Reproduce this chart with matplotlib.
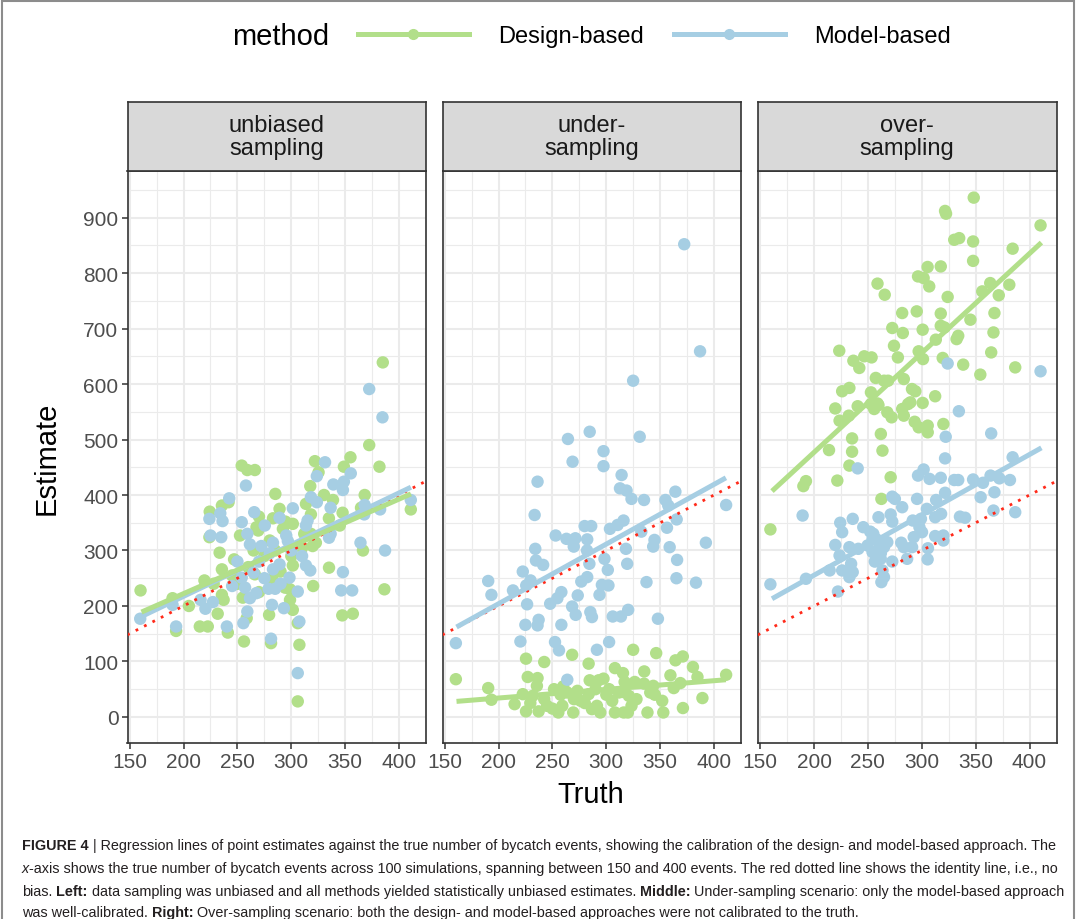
import numpy as np
import matplotlib.pyplot as plt
from matplotlib import font_manager
from matplotlib.lines import Line2D
from matplotlib.patches import Rectangle

plt.rcParams['font.family'] = ['Liberation Sans', 'DejaVu Sans']

# ---- data ---------------------------------------------------------------
panels = ["unbiased\nsampling", "under-\nsampling", "over-\nsampling"]

unb_design = [(384.9,639),(372.3,490),(381.8,451),(354.9,468),(348.8,451),(321.9,461),(325.3,441),
              (254.0,453),(259.2,445),(266.2,445),(317.6,416),(285.2,402),(235.6,381),(241.8,387),
              (224.3,370),(270,361),(283,358),(289.1,375),(294.6,352),(330.4,400),(338.7,391),
              (313.6,384),(318.2,365),(334.9,358),(347.6,368),(368.1,400),(364.7,377),(410.9,374),
              (224,324),(252.4,327),(269.3,336),(267.7,342),(292.2,339),(301.4,348),(318.2,330),
              (233.5,296),(246.9,284),(322.8,314),(319.8,308),(366.5,300),(335,269),(301.4,273),
              (282.4,249),(266.2,257),(235.6,266),(219.4,246),(160.1,228),(189.8,214),(235.6,220),
              (237.2,211),(231.7,186),(294.2,233),(298.8,230),(298.8,211),(301.4,193),(320.3,236),
              (279.4,184),(258.6,178),(241.1,152),(215.1,163),(222.5,163),(193.1,155),(306,169),
              (256.1,136),(281.2,133),(307.5,130),(306,28),(347.3,183),(357.1,186),(386.4,230),
              (275,290),(285,300),(260,270),(310,305),(290,262),(250,240),(270,225),(228,240),
              (205,200),(312,330),(345,345),(265,300),(280,318),(300,290),(245,255),(255,215)]
unb_model = [(372.3,591),(384.6,540),(355.2,439),(331.3,459),(323.7,434),(257.9,417),(339,419),
             (348.8,424),(347.9,409),(242.4,394),(224.0,357),(234.1,367),(236.2,353),(265.6,369),
             (289.1,359),(301.4,376),(254,351),(318.2,396),(323.7,387),(336.5,377),(315.1,354),
             (368.1,382),(367.7,365),(382.4,374),(410.9,391),(225,327),(235,324),(259.2,330),
             (275.4,345),(295.3,327),(313.6,345),(336.5,330),(261.6,311),(272.2,308),(283,314),
             (296.8,317),(335,323),(364.2,314),(387,300),(347.9,261),(313.6,273),(317.6,264),
             (289.1,275),(283,266),(298.3,251),(254,251),(257.1,233),(245.1,236),(267.4,223),
             (261.6,214),(189.8,202),(215.8,211),(220.3,195),(227.3,207),(278.9,231),(285,231),
             (306,226),(282.1,202),(293.1,196),(259.2,190),(255.5,169),(240.2,163),(193.1,163),
             (307.5,172),(281.2,141),(306,79),(346.3,228),(356.5,228),(159.8,177),
             (270,280),(280,295),(300,300),(290,240),(265,260),(310,290),(275,250),(250,280)]

und_design = [(160.4,68),(225.5,105),(242.4,99),(268.3,112),(283.6,96),(324.9,121),(346.3,115),
              (364.2,102),(371,109),(380.4,90),(384.6,72),(411.2,76),(190.4,52),(193.4,31),
              (222.5,41),(214.9,23),(225.5,10),(227.1,72),(236.2,70),(235.6,56),(231.7,38),
              (237.2,10),(242.4,32),(251.5,50),(257.6,40),(259.2,20),(255.5,8),(263.8,44),
              (269.3,8),(273.2,47),(276.2,29),(284.6,66),(283.6,41),(291.3,20),(294.4,8),
              (292.8,66),(297.4,69),(302.6,50),(305.5,29),(308,8),(308,88),(315.5,79),(317,63),
              (316.2,8),(320.9,38),(323.4,20),(326.4,63),(335.2,82),(338.2,8),(340.8,44),
              (343.6,56),(351.9,29),(352.9,8),(359.5,75),(362.6,52),(368.7,61),(371.1,16),
              (389.2,34),(311.6,44),(328,32),(270,32),(245,20),(286.7,14),(320,8),(229.5,25),
              (300,40),(260,55),(280,25),(335,60),(315,45),(250,15),(290,50),(345,40)]
und_model = [(372.3,852),(387,659),(324.9,606),(264.4,501),(284.6,514),(331,505),(297.4,479),
             (297.4,452),(268.7,460),(314.2,436),(236.2,424),(312.7,412),(318.8,408),(323.4,393),
             (335,391),(354.9,391),(364.1,406),(357.5,381),(411.2,382),(365.3,356),(233.5,364),
             (253,327),(263,321),(271.3,322),(269.8,307),(282.3,320),(279.9,344),(286,344),
             (303.4,339),(310.5,346),(316,354),(332.5,334),(344.7,319),(343.5,307),(356.3,341),
             (358.8,306),(392.4,314),(318.2,303),(234.1,303),(282.1,300),(284.3,276),(298.3,285),
             (319.4,276),(301.4,265),(234.7,282),(241.4,274),(222.5,262),(365.7,283),(365.1,250),
             (383.2,242),(337.3,243),(282.3,252),(276.8,244),(229.7,246),(225.7,237),(213.4,228),
             (190.4,245),(193.4,220),(226.5,203),(258.3,225),(254.6,214),(273.5,219),(247.9,204),
             (268.3,199),(295.9,238),(302,237),(293.7,220),(285.2,189),(286.7,180),(271.6,184),
             (258.3,166),(237.2,175),(236.2,165),(224.9,166),(306,181),(313.6,181),(320.3,193),
             (347.9,177),(160.4,133),(220.3,136),(252.4,135),(256.1,120),(291.3,121),(302.6,135),
             (263.8,67)]

ovr_design = [(348.2,936),(321.6,912),(322.5,907),(410.2,886),(330.1,860),(334.7,863),(347.6,857),
              (384.3,844),(347.6,822),(305.4,811),(317.6,812),(296.5,794),(301.7,791),(306.9,776),
              (258.9,781),(265.6,761),(324,757),(363.5,782),(356.1,767),(371.4,760),(381.2,779),
              (281.8,728),(295.3,731),(317.6,727),(367.4,728),(345.1,716),(272.6,701),(282.4,692),
              (300.8,698),(317.6,705),(321,702),(333.8,687),(332.3,681),(366.5,693),(274.2,669),
              (277.8,648),(297.1,659),(301.1,645),(313,680),(319.4,647),(338.4,635),(364.4,657),
              (354.3,617),(386.7,630),(223.4,660),(236.5,642),(242,629),(246.6,650),(253.4,648),
              (257.3,611),(265,606),(268.7,606),(283.3,609),(290.9,591),(294,587),(312.4,578),
              (300.8,566),(226.1,587),(232.8,593),(252.8,585),(258.9,565),(219.7,556),(240.5,560),
              (289.4,567),(281.8,555),(223.7,534),(232.3,543),(252.8,564),(259.8,562),(255.8,555),
              (268,549),(272,540),(283.3,543),(287.3,564),(293.4,532),(297.1,522),(305.5,525),
              (305.5,513),(320,528),(213.9,481),(235.3,502),(235.3,478),(262,510),(263.5,480),
              (232.8,453),(221.6,426),(192.5,425),(190.1,416),(271.1,432),(262.5,393),(159.5,338)]
ovr_model = [(324,637),(410.2,623),(334.4,551),(364.4,511),(322.2,505),(321.6,466),(240.5,448),
             (189.4,363),(159.5,239),(192.5,249),(222.2,226),(384.3,468),(296.5,435),(301.7,446),
             (307.2,429),(317.6,431),(330.1,427),(333.8,427),(347.6,428),(356.8,422),(363.8,435),
             (372,430),(381.8,427),(367.4,405),(354.6,396),(366.5,372),(386.7,369),(321.6,404),
             (313.3,391),(317.9,366),(312.4,360),(335.4,361),(340.2,359),(295.6,393),(304.7,375),
             (272.6,397),(275,393),(281.8,378),(271.1,365),(259.8,360),(272.6,352),(291.6,354),
             (299.2,357),(300.2,333),(297.8,342),(312.4,326),(320,327),(320,318),(224.3,350),
             (235.9,357),(226.1,333),(245.7,342),(252.1,334),(254.3,321),(261,309),(264.9,306),
             (254.3,297),(280.9,314),(283.3,306),(292.5,324),(291,306),(286.4,285),(305.7,304),
             (305.4,284),(219.7,310),(232.8,306),(241.1,303),(223.7,291),(234.4,276),(226.1,264),
             (232.8,252),(235.9,261),(214.5,264),(256.4,280),(261.9,285),(272.6,280),(263.5,264),
             (264.9,252),(262.5,243),(249.7,309),(258,320),(262,295),(268,315),(255,330)]

design_pts = [unb_design, und_design, ovr_design]
model_pts = [unb_model, und_model, ovr_model]

# fitted regression lines (value at x = 161 and x = 411)
fit_x = [161, 411]
fit_design = [(189, 402), (28, 67), (407, 855)]
fit_model = [(181, 414), (162, 431), (213, 485)]

GREEN = '#B2DF8A'
BLUE = '#A6CEE3'

# ---- layout --------------------------------------------------------------
W, H = 1076, 920
fig = plt.figure(figsize=(W / 100, H / 100), dpi=100)

def fx(px):
    return px / W

def fy(py):
    return 1 - py / H

lefts = [127.5, 442.5, 758]
pw = 298.5
p_top, p_bot, s_top = 172, 744, 103

for i in range(3):
    ax = fig.add_axes([fx(lefts[i]), fy(p_bot), pw / W, (p_bot - p_top) / H])
    d = np.array(design_pts[i])
    m = np.array(model_pts[i])
    ax.scatter(d[:, 0], d[:, 1], s=80, color=GREEN, edgecolors='none', zorder=2)
    ax.scatter(m[:, 0], m[:, 1], s=80, color=BLUE, edgecolors='none', zorder=2)
    ax.plot([140, 440], [140, 440], color='#FF2A1A', lw=2.0, ls=(0, (1, 2.4)), zorder=3)
    ax.plot(fit_x, fit_model[i], color=BLUE, lw=3.6, solid_capstyle='butt', zorder=4)
    ax.plot(fit_x, fit_design[i], color=GREEN, lw=3.6, solid_capstyle='butt', zorder=4)

    ax.set_xlim(148, 423)
    ax.set_ylim(-47, 984)
    ax.set_xticks(np.arange(150, 401, 50))
    ax.set_xticks(np.arange(175, 426, 50), minor=True)
    ax.set_yticks(np.arange(0, 901, 100))
    ax.set_yticks(np.arange(50, 951, 100), minor=True)
    ax.set_axisbelow(True)
    ax.grid(which='major', color='#EBEBEB', lw=1.5)
    ax.grid(which='minor', color='#EBEBEB', lw=0.8)
    ax.tick_params(which='major', direction='out', length=4, width=1.1, color='#333333',
                   labelsize=15, labelcolor='#4D4D4D', pad=2.5)
    ax.tick_params(which='minor', length=0)
    if i > 0:
        ax.tick_params(axis='y', which='both', left=False, labelleft=False)
    for sp in ax.spines.values():
        sp.set_color('#333333')
        sp.set_linewidth(1.2)

    st = fig.add_axes([fx(lefts[i]), fy(p_top), pw / W, (p_top - s_top) / H])
    st.set_facecolor('#D9D9D9')
    st.set_xticks([])
    st.set_yticks([])
    for sp in st.spines.values():
        sp.set_color('#333333')
        sp.set_linewidth(1.2)
    st.text(0.5, 0.5, panels[i], ha='center', va='center', fontsize=17,
            color='#1A1A1A', linespacing=1.05, transform=st.transAxes)

fig.text(fx(47), fy(458), 'Estimate', rotation=90, ha='center', va='center', fontsize=21)
fig.text(fx(591), fy(795), 'Truth', ha='center', va='center', fontsize=21)

# legend
fig.text(fx(232), fy(37), 'method', ha='left', va='center', fontsize=21)
handles = [Line2D([], [], color=GREEN, lw=3.6, marker='o', ms=7),
           Line2D([], [], color=BLUE, lw=3.6, marker='o', ms=7)]
fig.legend(handles, ['Design-based', 'Model-based'], loc='center left',
           bbox_to_anchor=(fx(358), fy(37)), ncol=2, frameon=False, fontsize=17,
           handlelength=4.7, handletextpad=1.25, columnspacing=1.25,
           borderpad=0, borderaxespad=0)

# caption
try:
    font_manager.findfont('Liberation Sans Narrow', fallback_to_default=False)
    cap_family = ['Liberation Sans Narrow', 'DejaVu Sans']
    cap_size = 11.5
except ValueError:
    cap_family = ['Liberation Sans', 'DejaVu Sans']
    cap_size = 10.4

cap = fig.add_axes([0, 0, 1, 1])
cap.axis('off')
cap.set_xlim(0, 1)
cap.set_ylim(0, 1)

caption = [
    [("FIGURE 4", 'bold', 'normal'),
     ("| Regression lines of point estimates against the true number of bycatch events, "
      "showing the calibration of the design- and model-based approach. The", 'normal', 'normal')],
    [("x", 'normal', 'italic'),
     ("-axis shows the true number of bycatch events across 100 simulations, spanning between "
      "150 and 400 events. The red dotted line shows the identity line, i.e., no", 'normal', 'normal')],
    [("bias.", 'normal', 'normal'), ("Left:", 'bold', 'normal'),
     ("data sampling was unbiased and all methods yielded statistically unbiased estimates.", 'normal', 'normal'),
     ("Middle:", 'bold', 'normal'),
     ("Under-sampling scenario: only the model-based approach", 'normal', 'normal')],
    [("was well-calibrated.", 'normal', 'normal'), ("Right:", 'bold', 'normal'),
     ("Over-sampling scenario: both the design- and model-based approaches were not "
      "calibrated to the truth.", 'normal', 'normal')],
]
line_y = [846, 869, 892, 913]
gap = cap_size * 0.27
for row, yy in zip(caption, line_y):
    prev = None
    for k, (txt, wt, sty) in enumerate(row):
        kw = dict(fontsize=cap_size, family=cap_family, weight=wt, style=sty,
                  color='#231F20', va='center', ha='left')
        if prev is None:
            prev = cap.text(fx(22), fy(yy), txt, transform=cap.transAxes, **kw)
        else:
            pad = 0 if (k == 1 and row[0][0] == 'x') else gap
            prev = cap.annotate(txt, xy=(1, 0.5), xycoords=prev, xytext=(pad, 0),
                                textcoords='offset points', **kw)

fig.patches.append(Rectangle((fx(2), -0.05), fx(1072), 1.05 - 2 / H, transform=fig.transFigure,
                             fill=False, ec='#8C8C8C', lw=1.5))

fig.savefig('out.png', dpi=100)
